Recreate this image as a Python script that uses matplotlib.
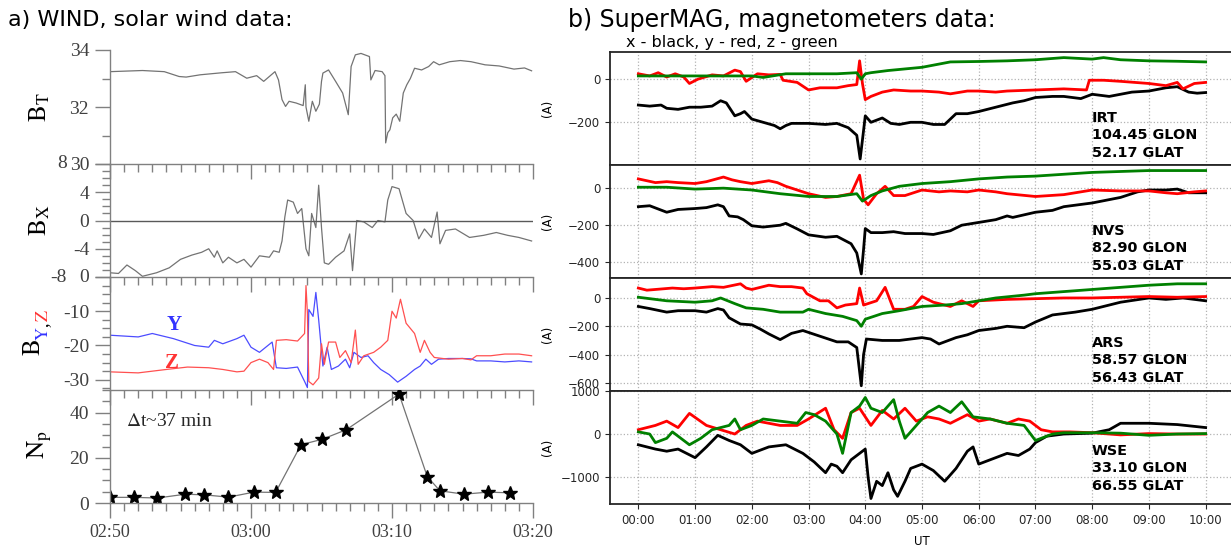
import matplotlib
matplotlib.use("Agg")
import matplotlib.pyplot as plt
from matplotlib.ticker import MultipleLocator

plt.rcParams['mathtext.fontset'] = 'stix'

# ---------------- a) WIND data (time in minutes after 02:50) ----------------
wind_ticks = [0, 10, 20, 30]
wind_labels = ["02:50", "03:00", "03:10", "03:20"]

bt_pts = [(0, 33.24), (2.3, 33.28), (3.85, 33.24), (4.9, 33.07), (5.4, 33.05), (6.4, 33.13),
          (7.9, 33.2), (8.9, 33.24), (9.7, 33.01), (10.4, 33.1), (10.9, 32.9), (11.7, 33.24),
          (11.95, 32.95), (12.2, 32.26), (12.45, 32.02), (12.7, 32.2), (13.2, 32.14), (13.7, 32.05),
          (13.85, 32.78), (13.9, 32.0), (14.1, 31.5), (14.35, 32.2), (14.6, 31.85), (14.85, 32.1),
          (15.0, 32.9), (15.1, 33.19), (15.5, 33.3), (16.0, 32.9), (16.5, 32.49), (16.9, 31.73),
          (17.1, 33.42), (17.4, 33.83), (17.8, 33.88), (18.4, 33.77), (18.5, 32.95), (18.8, 33.28),
          (19.3, 33.24), (19.5, 33.1), (19.55, 30.74), (19.7, 31.1), (19.85, 31.2), (20.05, 31.62),
          (20.3, 31.75), (20.55, 31.5), (20.8, 32.49), (21.05, 32.78), (21.3, 33.0), (21.6, 33.36),
          (22.1, 33.3), (22.6, 33.42), (22.95, 33.59), (23.35, 33.48), (24.1, 33.59), (24.85, 33.63),
          (25.6, 33.59), (26.6, 33.48), (27.6, 33.44), (28.65, 33.33), (29.4, 33.37), (29.9, 33.27)]

bx_pts = [(0, -7.4), (0.6, -7.5), (1.2, -6.3), (1.8, -7.1), (2.3, -7.9), (3.3, -7.4), (4.2, -6.7),
          (5.0, -5.5), (5.8, -4.9), (6.5, -4.5), (7.0, -4.0), (7.4, -5.2), (7.6, -4.3), (8.0, -6.0),
          (8.4, -5.2), (9.0, -6.0), (9.5, -5.5), (10.0, -6.6), (10.6, -5.0), (11.3, -5.2),
          (11.6, -4.3), (12.0, -4.5), (12.2, -2.9), (12.4, 0.5), (12.6, 2.9), (13.0, 2.6),
          (13.3, 1.0), (13.6, 1.7), (13.9, -4.0), (14.1, -5.0), (14.3, 1.0), (14.6, -1.0),
          (14.8, 5.0), (15.0, -1.0), (15.2, -6.0), (15.5, -6.2), (16.0, -5.2), (16.6, -4.3),
          (17.0, -1.9), (17.2, -7.1), (17.5, 0.0), (18.0, -0.2), (18.6, -1.0), (19.0, 0.0),
          (19.5, -0.2), (19.7, 2.9), (20.0, 4.8), (20.5, 4.5), (21.0, 1.0), (21.5, 0.0),
          (21.9, -2.6), (22.3, -1.2), (22.8, -2.4), (23.2, 1.2), (23.4, -3.3), (23.8, -1.4),
          (24.5, -1.2), (25.5, -2.4), (26.5, -2.1), (27.4, -1.7), (28.2, -2.1), (29.0, -2.4),
          (29.9, -2.9)]

by_pts = [(0, -17.0), (2.0, -17.5), (3.0, -16.5), (4.5, -18.0), (6.0, -20.0), (7.0, -20.5),
          (7.4, -18.5), (8.0, -19.5), (9.0, -18.0), (9.5, -17.0), (10.0, -20.5), (10.6, -22.0),
          (11.2, -20.0), (11.5, -19.0), (11.8, -26.5), (12.5, -26.7), (13.3, -26.3), (13.8, -30.5),
          (14.0, -32.3), (14.1, -9.5), (14.4, -11.5), (14.6, -4.5), (14.8, -12.5), (15.1, -26.0),
          (15.4, -20.5), (15.7, -27.0), (16.2, -26.0), (16.7, -24.0), (17.0, -26.5), (17.3, -22.0),
          (17.8, -23.5), (18.3, -23.0), (18.7, -25.0), (19.2, -27.0), (19.8, -28.5), (20.4, -30.7),
          (21.0, -29.0), (21.6, -27.0), (22.0, -26.0), (22.4, -24.0), (22.8, -25.5), (23.3, -24.0),
          (24.0, -23.8), (25.0, -23.8), (25.6, -23.9), (26.0, -24.5), (27.0, -24.5), (28.0, -24.8),
          (29.0, -24.5), (29.9, -24.8)]

bz_pts = [(0, -27.7), (2.0, -28.0), (4.0, -27.0), (5.5, -26.3), (7.0, -26.5), (8.0, -27.0),
          (9.0, -27.7), (9.5, -27.5), (10.0, -25.0), (10.6, -24.0), (11.2, -25.0), (11.6, -27.0),
          (11.8, -18.5), (12.5, -18.3), (13.3, -18.7), (13.8, -16.5), (13.9, -2.5), (14.0, -10.5),
          (14.1, -30.5), (14.4, -31.5), (14.6, -30.5), (14.8, -29.5), (15.0, -19.5), (15.2, -25.5),
          (15.5, -19.0), (16.0, -19.0), (16.3, -23.5), (16.7, -21.5), (17.1, -25.0), (17.4, -15.5),
          (17.6, -25.5), (18.0, -23.0), (18.7, -22.0), (19.2, -20.5), (19.7, -18.5), (20.0, -10.0),
          (20.3, -12.0), (20.6, -6.5), (21.0, -13.5), (21.6, -16.5), (22.0, -22.0), (22.3, -18.5),
          (22.7, -22.0), (23.0, -23.5), (24.0, -24.0), (25.0, -23.8), (25.6, -24.2), (26.0, -23.0),
          (27.0, -23.0), (28.0, -22.5), (29.0, -22.5), (29.9, -23.0)]

np_t = [0, 1.7, 3.35, 5.35, 6.7, 8.4, 10.2, 11.75, 13.55, 15.05, 16.75, 20.5, 22.5, 23.4, 25.1, 26.8, 28.4]
np_v = [2.5, 2.5, 2.2, 3.9, 3.6, 2.6, 4.8, 4.7, 25.8, 28.2, 32.4, 48.2, 11.7, 5.4, 3.9, 4.8, 4.5]

# ---------------- b) SuperMAG data (time in hours UT) ----------------
ut_ticks = list(range(11))
ut_labels = ["%02d:00" % h for h in ut_ticks]

irt_x = [(0, -120), (0.2, -125), (0.4, -120), (0.5, -135), (0.7, -140), (0.9, -130), (1.1, -130),
         (1.3, -125), (1.45, -100), (1.55, -110), (1.7, -170), (1.8, -160), (1.87, -150), (2.0, -185),
         (2.2, -200), (2.4, -215), (2.5, -230), (2.6, -215), (2.7, -205), (3.0, -205), (3.3, -210),
         (3.5, -205), (3.7, -225), (3.85, -260), (3.91, -370), (3.96, -260), (4.0, -170), (4.1, -200),
         (4.2, -190), (4.3, -180), (4.45, -205), (4.6, -210), (4.8, -200), (5.0, -200), (5.2, -210),
         (5.4, -210), (5.6, -160), (5.8, -160), (6.0, -150), (6.3, -130), (6.6, -110), (6.8, -100),
         (7.0, -85), (7.3, -80), (7.5, -80), (7.8, -90), (8.0, -70), (8.3, -80), (8.5, -70),
         (8.7, -60), (9.0, -55), (9.3, -40), (9.5, -35), (9.7, -60), (9.85, -65), (10, -62)]
irt_y = [(0, 25), (0.2, 15), (0.35, 30), (0.5, 10), (0.65, 25), (0.8, 10), (0.9, -20), (1.05, 0),
         (1.3, 20), (1.5, 15), (1.7, 42), (1.8, 35), (1.9, -10), (2.1, 25), (2.3, 20), (2.5, 22),
         (2.55, -5), (2.8, -15), (3.0, -50), (3.2, -40), (3.5, -40), (3.7, -30), (3.85, -25),
         (3.9, 85), (3.95, -20), (4.0, -95), (4.1, -80), (4.3, -60), (4.5, -50), (4.8, -55),
         (5.0, -55), (5.3, -60), (5.5, -68), (5.8, -55), (6.0, -55), (6.3, -60), (6.5, -55),
         (7.0, -50), (7.5, -45), (7.9, -50), (7.95, -5), (8.2, -5), (8.5, -10), (9.0, -20),
         (9.3, -30), (9.5, -15), (9.6, -45), (9.8, -20), (10, -15)]
irt_z = [(0, 15), (1.0, 15), (2.0, 15), (2.2, 8), (2.6, 25), (3.0, 25), (3.5, 25), (3.85, 30),
         (3.93, 0), (4.0, 25), (4.1, 30), (4.4, 40), (5.0, 55), (5.5, 80), (6.0, 82), (6.5, 85),
         (7.0, 90), (7.5, 100), (8.0, 93), (8.2, 100), (8.5, 90), (9.0, 85), (9.5, 83), (10, 80)]

nvs_x = [(0, -100), (0.2, -95), (0.5, -130), (0.7, -115), (1.0, -110), (1.2, -105), (1.4, -90),
         (1.5, -100), (1.6, -150), (1.75, -155), (1.85, -170), (2.0, -203), (2.2, -210), (2.5, -200),
         (2.6, -190), (2.8, -220), (3.0, -252), (3.3, -265), (3.5, -260), (3.75, -300), (3.85, -350),
         (3.93, -463), (3.97, -330), (4.0, -218), (4.1, -240), (4.3, -240), (4.5, -235), (4.7, -245),
         (5.0, -245), (5.2, -250), (5.5, -230), (5.7, -200), (5.9, -190), (6.1, -180), (6.3, -170),
         (6.5, -150), (6.6, -158), (7.0, -130), (7.3, -120), (7.5, -100), (8.0, -80), (8.5, -50),
         (8.8, -20), (9.0, -10), (9.3, -10), (9.5, -5), (9.7, -25), (10, -25)]
nvs_y = [(0, 50), (0.15, 40), (0.3, 30), (0.5, 35), (0.7, 30), (1.0, 25), (1.2, 35), (1.5, 60),
         (1.65, 45), (1.8, 35), (2.0, 25), (2.3, 40), (2.45, 30), (2.6, 10), (2.8, -10), (3.0, -30),
         (3.3, -50), (3.5, -45), (3.75, -30), (3.9, 70), (3.97, -60), (4.05, -90), (4.2, -30),
         (4.35, 10), (4.5, -40), (4.7, -40), (5.0, -10), (5.3, -20), (5.5, -15), (5.8, -20),
         (6.0, -10), (6.3, -20), (6.5, -30), (7.0, -45), (7.5, -35), (8.0, -10), (8.5, -15),
         (9.0, -15), (9.3, -25), (9.5, -30), (9.8, -20), (10, -15)]
nvs_z = [(0, 5), (0.5, 5), (1.0, -5), (1.5, 0), (2.0, -10), (2.5, -30), (3.0, -45), (3.5, -45),
         (3.85, -30), (3.95, -70), (4.1, -40), (4.3, -15), (4.6, 10), (5.0, 25), (5.5, 35), (6.0, 50),
         (6.5, 60), (7.0, 65), (7.5, 75), (8.0, 85), (8.5, 90), (9.0, 95), (9.5, 95), (10, 95)]

ars_x = [(0, -60), (0.2, -75), (0.5, -100), (0.7, -90), (1.0, -90), (1.2, -100), (1.4, -75),
         (1.5, -85), (1.6, -140), (1.8, -184), (2.0, -190), (2.15, -220), (2.3, -254), (2.5, -294),
         (2.7, -250), (2.9, -230), (3.2, -270), (3.5, -310), (3.7, -310), (3.85, -350), (3.93, -620),
         (3.97, -400), (4.02, -290), (4.3, -300), (4.6, -300), (4.8, -290), (5.0, -280), (5.15, -290),
         (5.3, -325), (5.6, -280), (5.8, -260), (6.0, -230), (6.3, -215), (6.5, -200), (6.8, -210),
         (7.0, -170), (7.3, -120), (7.7, -100), (8.0, -80), (8.5, -30), (9.0, 0), (9.3, -10),
         (9.6, 0), (10, -20)]
ars_y = [(0, 70), (0.15, 55), (0.3, 60), (0.6, 70), (0.8, 65), (1.0, 70), (1.3, 80), (1.5, 75),
         (1.8, 100), (1.9, 70), (2.0, 60), (2.3, 90), (2.5, 80), (2.7, 80), (2.9, 70), (2.97, 30),
         (3.2, -20), (3.35, -20), (3.5, -70), (3.65, -50), (3.85, -40), (3.9, 70), (3.97, -50),
         (4.2, -20), (4.35, 75), (4.5, -80), (4.7, -80), (4.85, -60), (5.0, 10), (5.2, -30),
         (5.5, -60), (5.7, -20), (5.9, -60), (6.0, -20), (6.5, -10), (7.0, -5), (7.5, 0), (8.0, 0),
         (8.5, 5), (9.0, 10), (9.5, 5), (10, 10)]
ars_z = [(0, 5), (0.5, -20), (1.0, -30), (1.3, -20), (1.45, 0), (1.7, -40), (1.9, -70), (2.2, -80),
         (2.5, -100), (2.9, -100), (3.0, -80), (3.3, -110), (3.6, -130), (3.85, -160), (3.93, -200),
         (4.0, -150), (4.3, -110), (4.6, -90), (5.0, -60), (5.4, -50), (5.7, -40), (6.0, -20),
         (6.3, 0), (6.8, 20), (7.0, 30), (7.5, 45), (8.0, 60), (8.5, 75), (9.0, 90), (9.5, 100),
         (10, 100)]

wse_x = [(0, -250), (0.15, -300), (0.3, -350), (0.5, -400), (0.7, -350), (0.85, -450), (1.0, -550),
         (1.2, -300), (1.4, -30), (1.6, -150), (1.8, -250), (2.0, -450), (2.3, -300), (2.6, -250),
         (2.9, -450), (3.1, -650), (3.3, -900), (3.4, -700), (3.5, -750), (3.6, -900), (3.75, -600),
         (3.9, -450), (4.0, -350), (4.05, -1000), (4.1, -1500), (4.2, -1100), (4.3, -1200),
         (4.4, -900), (4.5, -1300), (4.57, -1450), (4.7, -1100), (4.8, -800), (5.0, -700),
         (5.2, -850), (5.4, -1100), (5.6, -800), (5.8, -400), (5.9, -300), (6.0, -700), (6.2, -600),
         (6.5, -450), (6.7, -500), (6.9, -350), (7.0, -200), (7.2, -50), (7.5, 0), (8.0, 20),
         (8.3, 100), (8.5, 250), (9.0, 250), (9.5, 220), (10, 150)]
wse_y = [(0, 100), (0.3, 200), (0.5, 300), (0.7, 150), (0.9, 480), (1.2, 200), (1.5, 80), (1.7, 0),
         (1.9, 200), (2.1, 300), (2.5, 200), (2.8, 200), (3.0, 350), (3.3, 600), (3.45, 100),
         (3.6, -100), (3.75, 500), (3.9, 600), (4.0, 400), (4.1, 200), (4.3, 550), (4.5, 350),
         (4.7, 600), (4.9, 300), (5.1, 400), (5.3, 350), (5.5, 250), (5.8, 450), (6.0, 300),
         (6.2, 350), (6.5, 250), (6.7, 350), (6.9, 300), (7.1, 100), (7.3, 50), (7.6, 50), (8.0, 30),
         (8.5, -20), (9.0, 10), (9.5, 0), (10, 0)]
wse_z = [(0, 50), (0.2, 0), (0.3, -200), (0.5, -100), (0.6, 50), (0.8, -150), (0.9, -250),
         (1.1, -100), (1.3, 100), (1.6, 200), (1.7, 350), (1.8, 100), (2.0, 200), (2.2, 350),
         (2.5, 300), (2.8, 250), (2.95, 500), (3.1, 450), (3.3, 300), (3.5, 0), (3.6, -450),
         (3.75, 500), (3.9, 650), (4.0, 850), (4.1, 600), (4.3, 500), (4.5, 800), (4.6, 300),
         (4.7, -100), (4.9, 200), (5.1, 500), (5.3, 650), (5.5, 500), (5.7, 750), (5.9, 400),
         (6.2, 350), (6.5, 250), (6.8, 200), (7.0, -150), (7.3, 0), (7.5, 30), (8.0, 30), (8.5, 20),
         (9.0, -30), (9.5, 0), (10, 10)]

stations = [
    ("IRT\n104.45 GLON\n52.17 GLAT", irt_x, irt_y, irt_z, (-398, 126), [-200, 0]),
    ("NVS\n82.90 GLON\n55.03 GLAT", nvs_x, nvs_y, nvs_z, (-485, 125), [-400, -200, 0]),
    ("ARS\n58.57 GLON\n56.43 GLAT", ars_x, ars_y, ars_z, (-657, 141), [-600, -400, -200, 0]),
    ("WSE\n33.10 GLON\n66.55 GLAT", wse_x, wse_y, wse_z, (-1628, 1001), [-1000, 0, 1000]),
]

W, H = 1231, 546
fig = plt.figure(figsize=(W / 100, H / 100), dpi=100)


def px(l, t, r, b):
    return [l / W, 1 - b / H, (r - l) / W, (b - t) / H]


def xy(pts):
    return [p[0] for p in pts], [p[1] for p in pts]


serif = 'Liberation Serif'
gray = '0.45'
tick_col = '0.25'

# ---------------- left stack ----------------
rows = [(50, 164), (164, 277), (277, 390), (390, 503)]
left_axes = [fig.add_axes(px(110, t, 533, b)) for t, b in rows]
ax_bt, ax_bx, ax_byz, ax_np = left_axes

ax_bt.plot(*xy(bt_pts), color=gray, lw=0.9)
ax_bx.plot(*xy(bx_pts), color=gray, lw=0.9)
ax_bx.axhline(0, color='0.35', lw=1.0)
ax_byz.plot(*xy(by_pts), color='#4c4cff', lw=0.9)
ax_byz.plot(*xy(bz_pts), color='#ff5050', lw=0.9)
ax_np.plot(np_t, np_v, color=gray, lw=0.9, marker='*', ms=10, mfc='black', mec='black')

limits = [(30, 34), (-8, 8), (-33, 0), (0, 50)]
yticks = [[30, 32, 34], [-8, -4, 0, 4, 8], [-30, -20, -10, 0], [0, 20, 40]]
yminor = [1, 1, 2.5, 5]
for ax, lim, yt, mn in zip(left_axes, limits, yticks, yminor):
    ax.set_xlim(0, 30)
    ax.set_ylim(*lim)
    ax.set_yticks(yt)
    ax.set_yticklabels(["%g" % v for v in yt], fontfamily=serif, color=tick_col)
    ax.yaxis.set_minor_locator(MultipleLocator(mn))
    ax.set_xticks(wind_ticks)
    ax.xaxis.set_minor_locator(MultipleLocator(1))
    ax.set_xticklabels([])
    for s in ['top', 'right']:
        ax.spines[s].set_visible(False)
    for s in ['left', 'bottom']:
        ax.spines[s].set_color('0.5')
        ax.spines[s].set_linewidth(1.0)
    ax.tick_params(which='major', direction='out', length=11, width=1.0, color='0.5',
                   labelsize=14, pad=4)
    ax.tick_params(which='minor', direction='out', length=5.5, width=1.0, color='0.5')
    ax.patch.set_alpha(0)

ax_np.set_xticklabels(wind_labels, fontfamily=serif, color=tick_col, fontsize=13)

# BX end labels sit further left, clear of the neighbouring panels' labels
ax_bx.set_yticklabels(["", "-4", "0", "4", ""], fontfamily=serif, color=tick_col)
for val in (-8, 8):
    ax_bx.text(-0.102, val, "%g" % val, transform=ax_bx.get_yaxis_transform(),
               ha='right', va='center', fontsize=14, fontfamily=serif, color=tick_col)
# top label of the B_Y,Z panel, drawn explicitly at its limit
ax_byz.set_yticklabels(["-30", "-20", "-10", ""], fontfamily=serif, color=tick_col)
ax_byz.text(-0.05, 0, "0", transform=ax_byz.get_yaxis_transform(),
            ha='right', va='center', fontsize=14, fontfamily=serif, color=tick_col)

ax_np.text(1.1, 34, r"$\Delta$t~37 min", fontsize=14, fontfamily=serif, color='0.15')
ax_byz.text(4.0, -15.5, "Y", color='#3333ff', fontsize=15, fontfamily=serif, fontweight='bold')
ax_byz.text(3.9, -26.5, "Z", color='#ff3333', fontsize=15, fontfamily=serif, fontweight='bold')

fig.text(40 / W, 1 - 107 / H, r"$\mathrm{B_T}$", rotation=90, fontsize=18, ha='center', va='center')
fig.text(40 / W, 1 - 220 / H, r"$\mathrm{B_X}$", rotation=90, fontsize=18, ha='center', va='center')
fig.text(40 / W, 1 - 445 / H, r"$\mathrm{N_p}$", rotation=90, fontsize=18, ha='center', va='center')
fig.text(33 / W, 1 - 348 / H, r"$\mathrm{B}$", rotation=90, fontsize=18, ha='center', va='center')
fig.text(43 / W, 1 - 334 / H, r"$\mathrm{Y}$", rotation=90, fontsize=13, ha='center', va='center',
         color='#3333ff')
fig.text(43 / W, 1 - 325 / H, ",", rotation=90, fontsize=13, ha='center', va='center',
         fontfamily=serif)
fig.text(43 / W, 1 - 316 / H, r"$\mathrm{Z}$", rotation=90, fontsize=13, ha='center', va='center',
         color='#ff3333')

fig.text(8 / W, 1 - 20 / H, "a) WIND, solar wind data:", fontsize=16, va='center')

# ---------------- right stack ----------------
rrows = [(52, 165), (165, 278), (278, 391), (391, 504)]
text_tops = [111, 224, 336, 444]
right_axes = []
for (t, b), (name, sx, sy, sz, lim, yt), tt in zip(rrows, stations, text_tops):
    ax = fig.add_axes(px(610, t, 1234, b))
    ax.plot(*xy(sx), color='black', lw=2)
    ax.plot(*xy(sy), color='red', lw=2)
    ax.plot(*xy(sz), color='green', lw=2)
    ax.set_xlim(-0.5, 10.5)
    ax.set_ylim(*lim)
    ax.set_yticks(yt)
    ax.set_xticks(ut_ticks)
    ax.set_xticklabels([])
    ax.grid(True, ls=':', color='0.7', lw=0.9)
    ax.tick_params(labelsize=8.5, colors='0.15')
    for s in ax.spines.values():
        s.set_linewidth(1.3)
        s.set_color('0.15')
    ax.set_ylabel("(A)", fontsize=8.5, labelpad=2)
    ax.yaxis.set_label_coords(-((610 - 554) / 624), 0.5)
    fig.text(1092 / W, 1 - tt / H, name, fontsize=10.4, fontweight='bold', va='top',
             linespacing=1.3)
    right_axes.append(ax)

right_axes[-1].set_xticklabels(ut_labels)
right_axes[-1].set_xlabel("UT", fontsize=8.5, labelpad=6)

fig.text(568 / W, 1 - 20 / H, "b) SuperMAG, magnetometers data:", fontsize=17, va='center')
fig.text(626 / W, 1 - 43 / H, "x - black, y - red, z - green", fontsize=11.5, va='center')

fig.savefig("out.png", dpi=100)
